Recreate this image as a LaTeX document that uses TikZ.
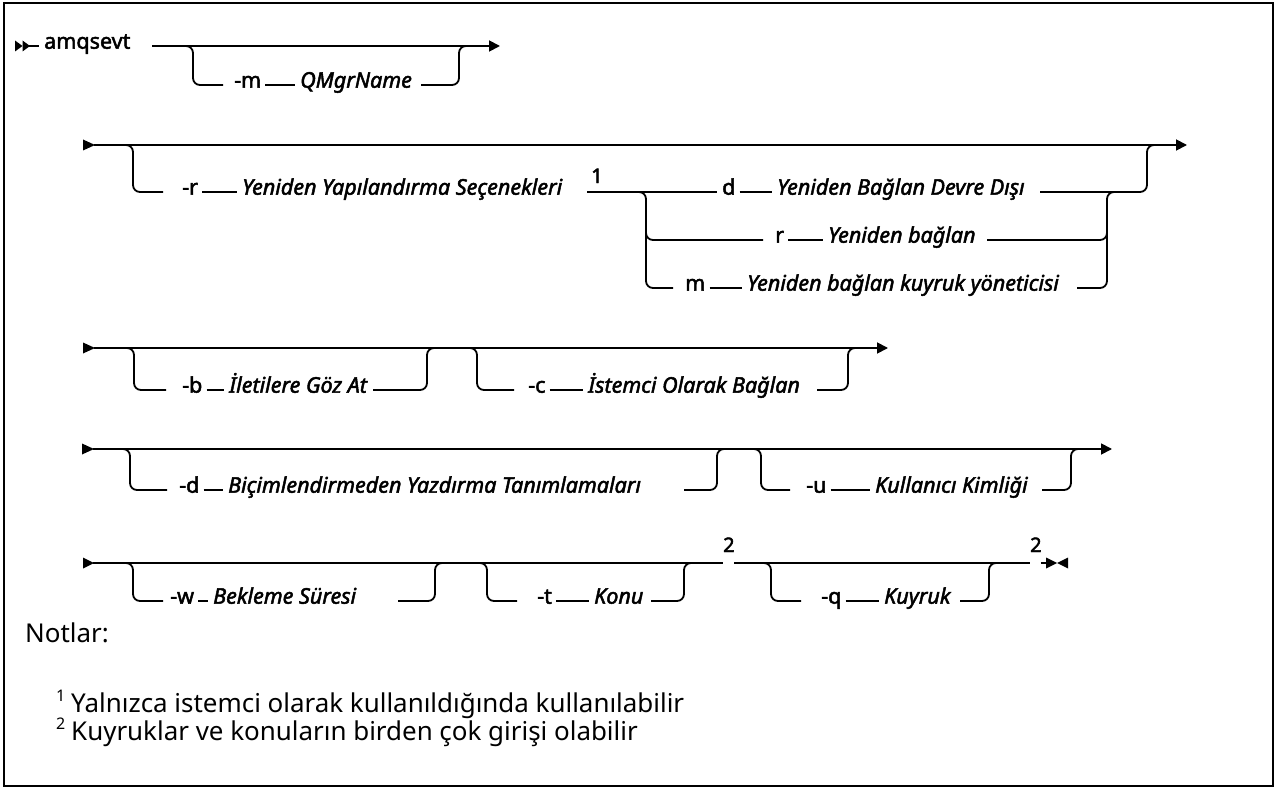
\documentclass[tikz,border=0pt]{standalone}
\usepackage{fontspec}
\setmainfont{Noto Sans}
\newfontfamily\dgfont[FakeBold=2.2]{Noto Sans}
\usetikzlibrary{arrows.meta}
\newlength\calw
\begin{document}
% font sizes taken from the widths of two reference strings
\settowidth\calw{\dgfont\fontsize{10}{12}\selectfont\itshape Yeniden Yapılandırma Seçenekleri}
\pgfmathsetmacro\dgsize{3200/\calw}
\settowidth\calw{\fontsize{10}{12}\selectfont Yalnızca istemci olarak kullanıldığında kullanılabilir}
\pgfmathsetmacro\ntsize{6130/\calw}
\begin{tikzpicture}[x=1pt,y=-1pt,
  rail/.style={line width=1.8pt, rounded corners=7pt},
  railtip/.style={rail, -{Triangle[length=11pt,width=11pt]}},
  kw/.style={font=\dgfont\fontsize{\dgsize}{\dgsize}\selectfont, inner sep=0pt, anchor=mid west},
  var/.style={font=\dgfont\fontsize{\dgsize}{\dgsize}\selectfont\itshape, inner sep=0pt, anchor=mid west},
  fnmark/.style={font=\dgfont\fontsize{20}{20}\selectfont, inner sep=0pt, anchor=base west},
  note/.style={font=\fontsize{\ntsize}{\ntsize}\selectfont, inner sep=0pt, anchor=base west},
  notemark/.style={font=\fontsize{16}{18}\selectfont, inner sep=0pt, anchor=base west},
  ]
\useasboundingbox (0,0) rectangle (1277,789);
\draw[line width=1.5pt] (4,3) rectangle (1273,786);

% ---- row 1: amqsevt [-m QMgrName]
\fill (15,40.5) -- (22.5,46) -- (15,51.5) -- cycle;
\fill (22.5,40.5) -- (30,46) -- (22.5,51.5) -- cycle;
\coordinate (s1) at (29,46);
\node[kw] (amq) at (44,46) {amqsevt};
\draw[line width=1.8pt] (s1) -- ([xshift=-5pt]amq.mid west);
\draw[railtip] (152,46) -- (500,46);
\draw[rail] (181,46) -- (193,46) -- (193,85) -- (223,85);
\node[kw] (optm) at (234,85) {-m};
\node[var] (qmgr) at (300,85) {QMgrName};
\draw[rail] ([xshift=4pt]optm.mid east) -- ([xshift=-5pt]qmgr.mid west);
\draw[rail] (421,85) -- (459,85) -- (459,46) -- (471,46);

% ---- row 2: [-r options {d|r|m}]
\fill (83,139.5) -- (95,145) -- (83,150.5) -- cycle;
\draw[railtip] (94,145) -- (1187,145);
\draw[rail] (121,145) -- (133,145) -- (133,192) -- (163,192);
\node[kw] (optr) at (182,192) {-r};
\node[var] (reconf) at (242,192) {Yeniden Yapılandırma Seçenekleri};
\draw[rail] ([xshift=4pt]optr.mid east) -- ([xshift=-5pt]reconf.mid west);
\node[fnmark] (fn1) at (591,183) {1};
\node[kw] (chd) at (722,192) {d};
\draw[rail] (587,192) -- ([xshift=-5pt]chd.mid west);
\draw[rail] (636,192) -- (646,192) -- (646,240) -- (763,240);
\draw[rail] (646,230) -- (646,288) -- (673,288);
\node[var] (dis) at (777,192) {Yeniden Bağlan Devre Dışı};
\draw[rail] ([xshift=4pt]chd.mid east) -- ([xshift=-5pt]dis.mid west);
\draw[rail] (1040,192) -- (1147,192) -- (1147,145) -- (1159,145);
\node[kw] (chr) at (775,240) {r};
\node[var] (rec) at (828,240) {Yeniden bağlan};
\draw[rail] ([xshift=4pt]chr.mid east) -- ([xshift=-5pt]rec.mid west);
\draw[rail] (987,240) -- (1107,240) -- (1107,226);
\node[kw] (chm) at (685,288) {m};
\node[var] (recq) at (747,288) {Yeniden bağlan kuyruk yöneticisi};
\draw[rail] ([xshift=4pt]chm.mid east) -- ([xshift=-5pt]recq.mid west);
\draw[rail] (1077,288) -- (1107,288) -- (1107,192) -- (1119,192);

% ---- row 3: [-b] [-c]
\fill (83,342.5) -- (95,348) -- (83,353.5) -- cycle;
\draw[railtip] (94,348) -- (888,348);
\draw[rail] (122,348) -- (134,348) -- (134,390) -- (166,390);
\node[kw] (optb) at (182,390) {-b};
\node[var] (browse) at (229,390) {İletilere Göz At};
\draw[rail] ([xshift=4pt]optb.mid east) -- ([xshift=-5pt]browse.mid west);
\draw[rail] (373,390) -- (427,390) -- (427,348) -- (439,348);
\draw[rail] (465,348) -- (477,348) -- (477,390) -- (514,390);
\node[kw] (optc) at (528,390) {-c};
\node[var] (client) at (588,390) {İstemci Olarak Bağlan};
\draw[rail] ([xshift=4pt]optc.mid east) -- ([xshift=-5pt]client.mid west);
\draw[rail] (817,390) -- (848,390) -- (848,348) -- (860,348);

% ---- row 4: [-d] [-u]
\fill (82,443.5) -- (94,449) -- (82,454.5) -- cycle;
\draw[railtip] (93,449) -- (1112,449);
\draw[rail] (118,449) -- (130,449) -- (130,490) -- (167,490);
\node[kw] (optd) at (179,490) {-d};
\node[var] (fmt) at (228,490) {Biçimlendirmeden Yazdırma Tanımlamaları};
\draw[rail] ([xshift=4pt]optd.mid east) -- ([xshift=-5pt]fmt.mid west);
\draw[rail] (684,490) -- (717,490) -- (717,449) -- (729,449);
\draw[rail] (749,449) -- (761,449) -- (761,490) -- (790,490);
\node[kw] (optu) at (806,490) {-u};
\node[var] (uid) at (875,490) {Kullanıcı Kimliği};
\draw[rail] ([xshift=4pt]optu.mid east) -- ([xshift=-5pt]uid.mid west);
\draw[rail] (1042,490) -- (1071,490) -- (1071,449) -- (1083,449);

% ---- row 5: [-w] [-t] [-q]
\fill (83,557.5) -- (94,563) -- (83,568.5) -- cycle;
\draw[rail] (93,563) -- (723,563);
\draw[rail] (121,563) -- (133,563) -- (133,601) -- (163,601);
\node[kw] (optw) at (170,601) {-w};
\node[var] (wait) at (213,601) {Bekleme Süresi};
\draw[rail] ([xshift=4pt]optw.mid east) -- ([xshift=-5pt]wait.mid west);
\draw[rail] (398,601) -- (435,601) -- (435,563) -- (447,563);
\draw[rail] (475,563) -- (487,563) -- (487,601) -- (517,601);
\node[kw] (optt) at (537,601) {-t};
\node[var] (topic) at (594,601) {Konu};
\draw[rail] ([xshift=4pt]optt.mid east) -- ([xshift=-5pt]topic.mid west);
\draw[rail] (651,601) -- (684,601) -- (684,563) -- (696,563);
\node[fnmark] (fn2a) at (723,552) {2};
\draw[rail] (734,563) -- (1030,563);
\draw[rail] (760,563) -- (771,563) -- (771,601) -- (801,601);
\node[kw] (optq) at (821,601) {-q};
\node[var] (queue) at (884,601) {Kuyruk};
\draw[rail] ([xshift=4pt]optq.mid east) -- ([xshift=-5pt]queue.mid west);
\draw[rail] (960,601) -- (989,601) -- (989,563) -- (1001,563);
\node[fnmark] (fn2b) at (1030,552) {2};
\coordinate (endl) at (1048,563);
\draw[line width=1.8pt] ([xshift=-1pt]fn2b.base east |- endl) -- (endl);
\fill (1046,557.5) -- (1057,563) -- (1046,568.5) -- cycle;
\fill (1068,557.5) -- (1057,563) -- (1068,568.5) -- cycle;

% ---- notes
\node[note, anchor=mid west] (notlar) at (25,640) {Notlar:};
\node[notemark] (n1m) at (56,701) {1};
\node[note] (n1) at (71,712) {Yalnızca istemci olarak kullanıldığında kullanılabilir};
\node[notemark] (n2m) at (56,729) {2};
\node[note] (n2) at (71,740) {Kuyruklar ve konuların birden çok girişi olabilir};
\end{tikzpicture}
\end{document}
